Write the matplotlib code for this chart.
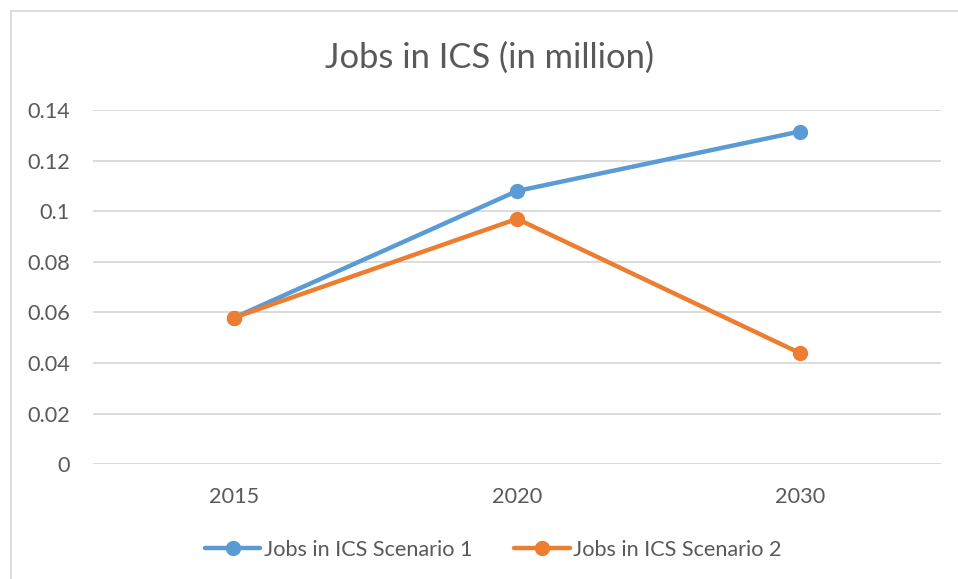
import matplotlib.pyplot as plt
from matplotlib.patches import Rectangle

years = ['2015', '2020', '2030']
scenario_1 = [0.058, 0.108, 0.1315]
scenario_2 = [0.058, 0.097, 0.044]
y_ticks = [0, 0.02, 0.04, 0.06, 0.08, 0.1, 0.12, 0.14]
y_tick_labels = ['0', '0.02', '0.04', '0.06', '0.08', '0.1', '0.12', '0.14']

blue = '#5b9bd5'
orange = '#ed7d31'
text_grey = '#595959'
grid_grey = '#d9d9d9'

plt.rcParams['font.family'] = ['Lato', 'DejaVu Sans']

fig = plt.figure(figsize=(9.58, 5.79), dpi=100)
ax = fig.add_axes([0.0971, 0.198, 0.8852, 0.612])

# chart frame (only top and left edges fall inside the image)
fig.patches.append(Rectangle((11 / 958, -0.1), 1.2, 1 - 11 / 579 + 0.1,
                             transform=fig.transFigure, fill=False,
                             edgecolor=grid_grey, linewidth=1.3))

x = range(len(years))
ax.plot(x, scenario_1, color=blue, linewidth=3.2, marker='o', markersize=10,
        label='Jobs in ICS Scenario 1', solid_capstyle='round')
ax.plot(x, scenario_2, color=orange, linewidth=3.2, marker='o', markersize=10,
        label='Jobs in ICS Scenario 2', solid_capstyle='round')

ax.set_xlim(-0.5, 2.5)
ax.set_ylim(0, 0.14)
ax.set_xticks(list(x))
ax.set_xticklabels(years)
ax.set_yticks(y_ticks)
ax.set_yticklabels(y_tick_labels)
ax.tick_params(length=0, labelsize=15.6, colors=text_grey)
ax.tick_params(axis='x', pad=16)
ax.tick_params(axis='y', pad=16.5)
ax.grid(axis='y', color=grid_grey, linewidth=1.3)
ax.set_axisbelow(True)
for s in ax.spines.values():
    s.set_visible(False)

fig.text(0.511, 0.9, 'Jobs in ICS (in million)', ha='center', va='center',
         fontsize=24.8, color=text_grey)

fig.legend(loc='center', bbox_to_anchor=(0.515, 0.05), ncol=2, frameon=False,
           fontsize=15.6, labelcolor=text_grey, handlelength=2.55,
           handletextpad=0.15, columnspacing=1.95)

fig.savefig('out.png', dpi=100, facecolor='white')
